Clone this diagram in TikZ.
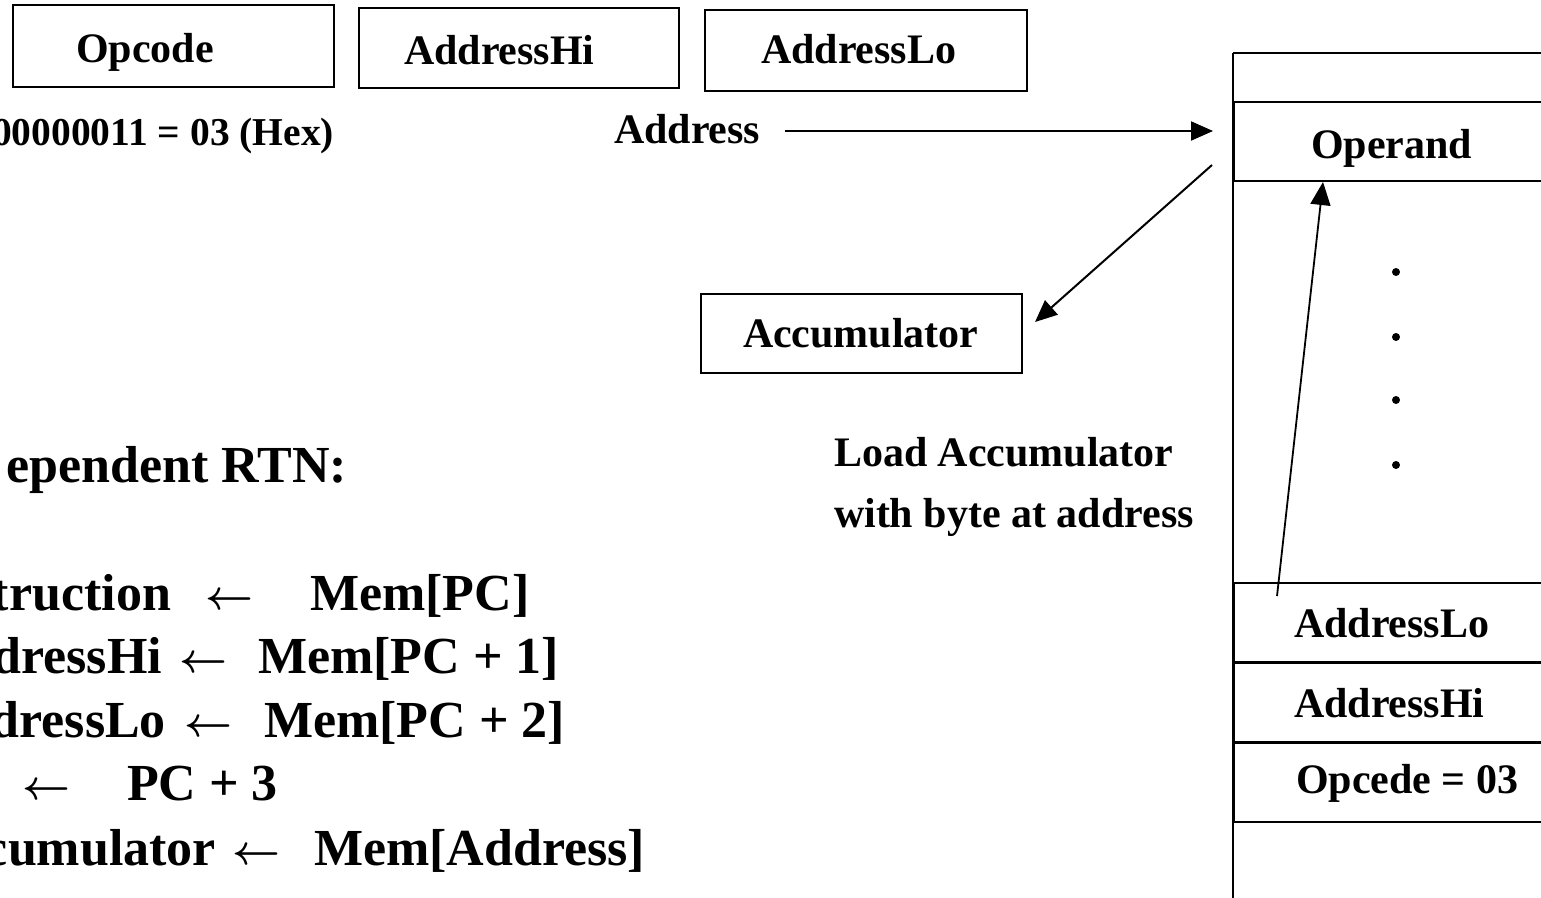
\documentclass[tikz,border=0pt]{standalone}
\usepackage{fontspec}
\usepackage{graphicx}
\setmainfont{Liberation Serif}
\usetikzlibrary{arrows.meta}
\newcommand{\getsarrow}{\resizebox{48pt}{!}{\boldmath$\leftarrow$}}
\begin{document}
\begin{tikzpicture}[x=1pt,y=-1pt,line width=2pt,
  big/.style={font=\fontsize{42}{48}\selectfont\bfseries,inner sep=0pt},
  rtn/.style={font=\fontsize{52}{60}\selectfont\bfseries,inner sep=0pt},
  gets/.style={inner sep=0pt,anchor=base west},
  field/.style={draw,line width=2.4pt,inner sep=0pt,anchor=north west},
  cell/.style={draw,line width=2.2pt,inner sep=0pt,anchor=north west,minimum width=400pt,minimum height=79pt},
  tip/.style={-{Triangle[length=22pt,width=19pt]}}]
\useasboundingbox (0,0) rectangle (1541,897);
\clip (0,0) rectangle (1541,897);

% instruction fields
\node[field,minimum width=321pt,minimum height=82pt] (opbox) at (12,4) {};
\node[field,minimum width=320pt,minimum height=80pt] (hibox) at (358,7) {};
\node[field,minimum width=322pt,minimum height=81pt] (lobox) at (704,9) {};
\node[big,anchor=base west] (opT) at (75,62) {Opcode};
\node[big,anchor=base west] (hiT) at (403,64) {AddressHi};
\node[big,anchor=base west] (loT) at (760,63) {AddressLo};
\node[big,font=\fontsize{39.5}{46}\selectfont\bfseries,anchor=base east] (hex) at (335,145) {00000011 = 03 (Hex)};
\node[big,anchor=base west] (addr) at (613,143) {Address};

% accumulator
\node[field,minimum width=321pt,minimum height=79pt] (acc) at (700,293) {};
\node[big,anchor=base west] (accT) at (742,347) {Accumulator};
\node[big,anchor=base west] (load1) at (833,466) {Load Accumulator};
\node[big,anchor=base west] (load2) at (833,527) {with byte at address};

% memory column
\draw (1233,53) -- (1233,920);
\draw (1233,53) -- (1580,53);
\node[cell] (oprow) at (1233,101) {};
\node[cell] (lorow) at (1233,582) {};
\node[cell] (hirow) at (1233,662) {};
\node[cell] (ocrow) at (1233,742) {};
\node[big,anchor=base west] (opnd) at (1310,158) {Operand};
\node[big,anchor=base west] (loM) at (1293,637) {AddressLo};
\node[big,anchor=base west] (hiM) at (1293,717) {AddressHi};
\node[big,anchor=base west] (ocM) at (1295,793) {Opcede = 03};
\foreach \yy in {272,337,400,465}
  \fill (1396,\yy) circle (4pt);

% data paths
\coordinate (a1) at (785,131);
\coordinate (a2) at (1213,131);
\draw[tip] (a1) -- (a2);
\coordinate (d1) at (1212,165);
\coordinate (d2) at (1035,322);
\draw[tip] (d1) -- (d2);
\coordinate (u1) at (1277,596);
\coordinate (u2) at (1323,182);
\draw[line width=1.8pt,-{Triangle[length=23pt,width=20pt]}] (u1) -- (u2);

% register transfer notation
\node[rtn,anchor=base east] (title) at (348,482) {ependent RTN:};
\node[rtn,anchor=base east] (r1a) at (172,610) {truction};
\node[gets] (r1b) at (204,609) {\getsarrow};
\node[rtn,anchor=base west] (r1c) at (309,610) {Mem[PC]};
\node[rtn,anchor=base east] (r2a) at (163,673) {dressHi};
\node[gets] (r2b) at (178,672) {\getsarrow};
\node[rtn,anchor=base west] (r2c) at (257,673) {Mem[PC + 1]};
\node[rtn,anchor=base east] (r3a) at (167,737) {dressLo};
\node[gets] (r3b) at (183,736) {\getsarrow};
\node[rtn,anchor=base west] (r3c) at (263,737) {Mem[PC + 2]};
\node[gets] (r4b) at (21,799) {\getsarrow};
\node[rtn,anchor=base west] (r4c) at (126,800) {PC + 3};
\node[rtn,anchor=base east] (r5a) at (217,865) {cumulator};
\node[gets] (r5b) at (231,864) {\getsarrow};
\node[rtn,anchor=base west] (r5c) at (313,865) {Mem[Address]};
\end{tikzpicture}
\end{document}
